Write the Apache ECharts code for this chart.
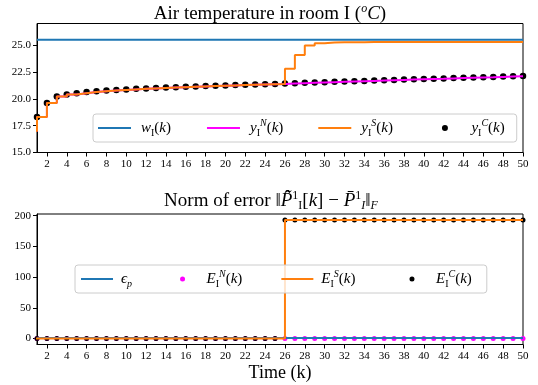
<!DOCTYPE html>
<html>
<head>
<meta charset="utf-8">
<script src="https://cdn.jsdelivr.net/npm/echarts@6/dist/echarts.min.js"></script>
<style>
html, body { margin: 0; padding: 0; background: #fff; }
#chart { width: 538px; height: 385px; }
</style>
</head>
<body>
<div id="chart"></div>
<script>
// time steps (k = 0 is only there so the step lines start below the first value)
var k = [0, 1, 2, 3, 4, 5, 6, 7, 8, 9, 10, 11, 12, 13, 14, 15, 16, 17, 18, 19, 20,
    21, 22, 23, 24, 25, 26, 27, 28, 29, 30, 31, 32, 33, 34, 35, 36, 37, 38, 39, 40,
    41, 42, 43, 44, 45, 46, 47, 48, 49, 50];
var xTicks = [2, 4, 6, 8, 10, 12, 14, 16, 18, 20, 22, 24, 26, 28, 30, 32, 34, 36, 38, 40, 42, 44, 46, 48, 50];
var yTicksTop = [15, 17.5, 20, 22.5, 25];
var yTicksBottom = [0, 50, 100, 150, 200];

// air temperature (k = 1..50 for the dots, k = 0..50 for the step lines)
var wI = 25.5;
var yC = [18.3, 19.6, 20.2, 20.4, 20.52, 20.62, 20.7, 20.76, 20.82, 20.87,
    20.92, 20.96, 21.0, 21.04, 21.08, 21.12, 21.15, 21.18, 21.21, 21.24,
    21.27, 21.3, 21.33, 21.36, 21.38, 21.42, 21.45, 21.48, 21.51, 21.54,
    21.57, 21.6, 21.63, 21.66, 21.69, 21.72, 21.75, 21.78, 21.81, 21.84,
    21.86, 21.89, 21.92, 21.95, 21.98, 22.0, 22.03, 22.06, 22.09, 22.12];
var yN = [17.0, 18.3, 19.6, 20.2, 20.4, 20.52, 20.62, 20.7, 20.76, 20.82, 20.87,
    20.92, 20.96, 21.0, 21.04, 21.08, 21.12, 21.15, 21.18, 21.21, 21.24,
    21.27, 21.3, 21.33, 21.36, 21.38, 21.42, 21.45, 21.48, 21.51, 21.54,
    21.57, 21.6, 21.63, 21.66, 21.69, 21.72, 21.75, 21.78, 21.81, 21.84,
    21.86, 21.89, 21.92, 21.95, 21.98, 22.0, 22.03, 22.06, 22.09, 22.12];
var yS = [17.0, 18.3, 19.6, 20.2, 20.4, 20.52, 20.62, 20.7, 20.76, 20.82, 20.87,
    20.92, 20.96, 21.0, 21.04, 21.08, 21.12, 21.15, 21.18, 21.21, 21.24,
    21.27, 21.3, 21.33, 21.36, 21.38, 22.78, 24.08, 24.95, 25.17, 25.23,
    25.25, 25.26, 25.26, 25.27, 25.27, 25.27, 25.28, 25.28, 25.28, 25.28,
    25.28, 25.28, 25.28, 25.28, 25.28, 25.28, 25.28, 25.28, 25.28, 25.28];

// norm of error
var epsP = 1;
var EN = [0, 0, 0, 0, 0, 0, 0, 0, 0, 0, 0, 0, 0, 0, 0, 0, 0, 0, 0, 0, 0, 0, 0, 0, 0,
    0, 0, 0, 0, 0, 0, 0, 0, 0, 0, 0, 0, 0, 0, 0, 0, 0, 0, 0, 0, 0, 0, 0, 0, 0];
var EC = [0, 0, 0, 0, 0, 0, 0, 0, 0, 0, 0, 0, 0, 0, 0, 0, 0, 0, 0, 0, 0, 0, 0, 0, 0,
    193, 193, 193, 193, 193, 193, 193, 193, 193, 193, 193, 193, 193, 193, 193,
    193, 193, 193, 193, 193, 193, 193, 193, 193, 193];
var ES = [0, 0, 0, 0, 0, 0, 0, 0, 0, 0, 0, 0, 0, 0, 0, 0, 0, 0, 0, 0, 0, 0, 0, 0, 0, 0,
    193, 193, 193, 193, 193, 193, 193, 193, 193, 193, 193, 193, 193, 193, 193,
    193, 193, 193, 193, 193, 193, 193, 193, 193, 193];

var SERIF = 'Liberation Serif';
var BLUE = '#1f77b4', MAGENTA = '#ff00ff', ORANGE = '#ff7f0e';

function pairs(xs, ys) {
    return ys.map(function(v, i) { return [xs[i], v]; });
}
var k1 = k.slice(1);

function richSet(size, small, lh) {
    var base = { fontFamily: SERIF, fontWeight: 'normal', color: '#000' };
    function st(o) { return Object.assign({}, base, o); }
    function gap(w) { return st({ fontSize: size, lineHeight: lh, padding: [0, w, 0, 0] }); }
    return {
        n: st({ fontSize: size, lineHeight: lh }),
        it: st({ fontStyle: 'italic', fontSize: size, lineHeight: lh }),
        sub: st({ fontSize: small, lineHeight: small, verticalAlign: 'bottom' }),
        subi: st({ fontStyle: 'italic', fontSize: small, lineHeight: small, verticalAlign: 'bottom' }),
        sup: st({ fontSize: small, lineHeight: small, verticalAlign: 'top' }),
        supi: st({ fontStyle: 'italic', fontSize: small, lineHeight: small, verticalAlign: 'top' }),
        // spacers so the legend columns sit where the reference has them
        g24: gap(24), g25: gap(25), g28: gap(28), g38: gap(38), g39: gap(39), g44: gap(44)
    };
}

var legendText = {
    'wI': '{it|w}{sub|I}{n|(}{it|k}{n|)}{g25|}',
    'yN': '{it|y}{sub|I}{supi|N}{n|(}{it|k}{n|)}{g24|}',
    'yS': '{it|y}{sub|I}{supi|S}{n|(}{it|k}{n|)}{g39|}',
    'yC': '{it|y}{sub|I}{supi|C}{n|(}{it|k}{n|)}',
    'eps': '{it|\u03f5}{subi|p}{g38|}',
    'EN': '{it|E}{sub|I}{supi|N}{n|(}{it|k}{n|)}{g28|}',
    'ES': '{it|E}{sub|I}{supi|S}{n|(}{it|k}{n|)}{g44|}',
    'EC': '{it|E}{sub|I}{supi|C}{n|(}{it|k}{n|)}'
};
var lineItem = { opacity: 0 };

var axisCommon = {
    axisLine: { show: true, onZero: false, lineStyle: { color: '#000', width: 1 } },
    axisTick: { show: true, length: 4, lineStyle: { color: '#000', width: 1 } },
    splitLine: { show: false },
    axisLabel: { fontFamily: SERIF, fontSize: 11, color: '#000', margin: 6 }
};

function xAxis(gi, extra) {
    return Object.assign({
        type: 'value', gridIndex: gi, min: 1, max: 50,
        axisLine: axisCommon.axisLine,
        axisTick: Object.assign({ customValues: xTicks }, axisCommon.axisTick),
        axisLabel: Object.assign({ customValues: xTicks }, axisCommon.axisLabel),
        splitLine: axisCommon.splitLine
    }, extra || {});
}

var myChart = echarts.init(document.getElementById('chart'));

var options = {
    animation: false,
    backgroundColor: '#fff',
    title: [{
        text: '{n|Air temperature in room I (}{supi|o}{it|C}{n|)}',
        left: 265, top: -2, textAlign: 'center',
        textStyle: { fontWeight: 'normal', rich: richSet(19, 12, 22) }
    }, {
        text: '{n|Norm of error \u2016}{it|P\u0303\u0302}{sup|1}{sub|I}{n|[}{it|k}{n|] \u2212 }{it|P\u0304}{sup|1}{subi|I}{n|\u2016}{subi|F}',
        left: 266, top: 185, textAlign: 'center',
        textStyle: { fontWeight: 'normal', rich: richSet(19, 12, 22) }
    }],
    grid: [
        { left: 37, right: 15, top: 23.5, height: 129, show: true, borderColor: '#000', borderWidth: 1 },
        { left: 37, right: 15, top: 214, height: 130.5, show: true, borderColor: '#000', borderWidth: 1 }
    ],
    legend: [{
        left: 93, top: 114, orient: 'horizontal',
        selectedMode: false,
        itemWidth: 33, itemHeight: 6, itemGap: 10,
        padding: [4, 12, 4, 4],
        backgroundColor: 'rgba(255,255,255,0.8)',
        borderColor: '#cccccc', borderWidth: 1, borderRadius: 3,
        formatter: function(name) { return legendText[name]; },
        textStyle: { rich: richSet(15, 10, 20), padding: [0, 0, 0, 5] },
        data: [
            { name: 'wI', itemStyle: lineItem },
            { name: 'yN', itemStyle: lineItem },
            { name: 'yS', itemStyle: lineItem },
            { name: 'yC' }
        ]
    }, {
        left: 75, top: 265, orient: 'horizontal',
        selectedMode: false,
        itemWidth: 32, itemHeight: 5, itemGap: 10,
        padding: [4, 15, 4, 5],
        backgroundColor: 'rgba(255,255,255,0.8)',
        borderColor: '#cccccc', borderWidth: 1, borderRadius: 3,
        formatter: function(name) { return legendText[name]; },
        textStyle: { rich: richSet(15, 10, 20), padding: [0, 0, 0, 3] },
        data: [
            { name: 'eps', itemStyle: lineItem },
            { name: 'EN' },
            { name: 'ES', itemStyle: lineItem },
            { name: 'EC' }
        ]
    }],
    xAxis: [
        xAxis(0),
        xAxis(1, {
            name: 'Time (k)', nameLocation: 'middle', nameGap: 20,
            nameTextStyle: { fontFamily: SERIF, fontSize: 18, color: '#000' }
        })
    ],
    yAxis: [{
        type: 'value', gridIndex: 0, min: 15, max: 27,
        axisLine: axisCommon.axisLine,
        axisTick: Object.assign({ customValues: yTicksTop }, axisCommon.axisTick),
        axisLabel: Object.assign({
            customValues: yTicksTop,
            formatter: function(v) { return v.toFixed(1); }
        }, axisCommon.axisLabel),
        splitLine: axisCommon.splitLine
    }, {
        type: 'value', gridIndex: 1, min: -9.65, max: 202.65,
        axisLine: axisCommon.axisLine,
        axisTick: Object.assign({ customValues: yTicksBottom }, axisCommon.axisTick),
        axisLabel: Object.assign({ customValues: yTicksBottom }, axisCommon.axisLabel),
        splitLine: axisCommon.splitLine
    }],
    series: [{
        name: 'wI', type: 'line', xAxisIndex: 0, yAxisIndex: 0,
        symbol: 'none', lineStyle: { color: BLUE, width: 2 }, itemStyle: { color: BLUE },
        data: pairs(k1, k1.map(function() { return wI; }))
    }, {
        name: 'yN', type: 'line', step: 'end', xAxisIndex: 0, yAxisIndex: 0,
        symbol: 'none', lineStyle: { color: MAGENTA, width: 2 }, itemStyle: { color: MAGENTA },
        data: pairs(k, yN)
    }, {
        name: 'yS', type: 'line', step: 'end', xAxisIndex: 0, yAxisIndex: 0,
        symbol: 'none', lineStyle: { color: ORANGE, width: 2 }, itemStyle: { color: ORANGE },
        data: pairs(k, yS)
    }, {
        name: 'yC', type: 'scatter', xAxisIndex: 0, yAxisIndex: 0,
        symbol: 'circle', symbolSize: 6.5, itemStyle: { color: '#000', opacity: 1 },
        data: pairs(k1, yC)
    }, {
        name: 'eps', type: 'line', xAxisIndex: 1, yAxisIndex: 1,
        symbol: 'none', lineStyle: { color: BLUE, width: 2 }, itemStyle: { color: BLUE },
        data: pairs(k1, k1.map(function() { return epsP; }))
    }, {
        name: 'EN', type: 'scatter', xAxisIndex: 1, yAxisIndex: 1,
        symbol: 'circle', symbolSize: 5, itemStyle: { color: MAGENTA, opacity: 1 },
        data: pairs(k1, EN)
    }, {
        name: 'ES', type: 'line', step: 'end', xAxisIndex: 1, yAxisIndex: 1,
        symbol: 'none', lineStyle: { color: ORANGE, width: 2 }, itemStyle: { color: ORANGE },
        data: pairs(k, ES)
    }, {
        name: 'EC', type: 'scatter', xAxisIndex: 1, yAxisIndex: 1,
        symbol: 'circle', symbolSize: 5, itemStyle: { color: '#000', opacity: 1 },
        data: pairs(k1, EC)
    }]
};
myChart.setOption(options);
</script>
</body>
</html>
